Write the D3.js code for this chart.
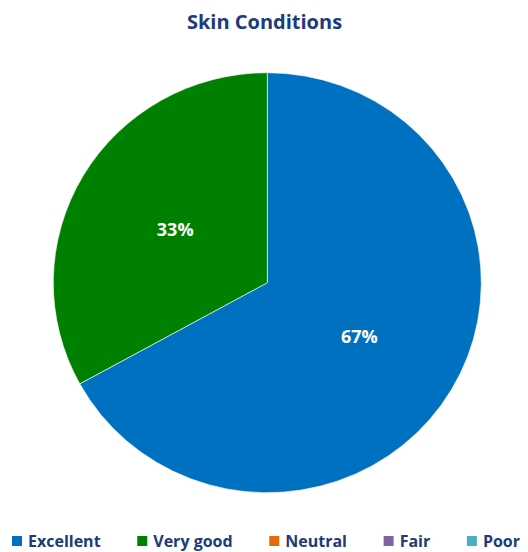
<!DOCTYPE html>
<html>
<head>
<meta charset="utf-8">
<script src="https://cdn.jsdelivr.net/npm/d3@7"></script>
<style>
  body { margin: 0; background: #fff; }
  text { font-family: "Open Sans", "Noto Sans", sans-serif; font-weight: bold; }
</style>
</head>
<body>
<div id="chart"></div>
<script>
// Chart data (share of responses, %)
var categories = ["Excellent", "Very good", "Neutral", "Fair", "Poor"];
var shares = [67, 33, 0, 0, 0];
var colors = ["#0070C0", "#008000", "#E36C09", "#8064A2", "#4BACC6"];

var svgWidth = 528;
var svgHeight = 552;
var cx = 267.3, cy = 282.7;
var rx = 214, ry = 210; // picture is slightly squashed vertically
var navy = "#203A7A";

var svg = d3.select("#chart")
  .append("svg")
  .attr("width", svgWidth)
  .attr("height", svgHeight);

// Title
svg.append("text")
  .attr("x", 264.5)
  .attr("y", 29)
  .attr("text-anchor", "middle")
  .attr("fill", navy)
  .style("font-size", "20px")
  .text("Skin Conditions");

var data = categories.map(function(c, i) { return { name: c, value: shares[i], color: colors[i] }; });
var total = d3.sum(shares);

var pie = d3.pie().sort(null).value(function(d) { return d.value; });
var arc = d3.arc().innerRadius(0).outerRadius(rx);
var labelArc = d3.arc().innerRadius(rx * 0.5).outerRadius(rx * 0.5);

var slices = pie(data).filter(function(d) { return d.data.value > 0; });

var pieGroup = svg.append("g")
  .attr("transform", "translate(" + cx + "," + cy + ") scale(1," + (ry / rx) + ")");

pieGroup.selectAll("path")
  .data(slices)
  .enter()
  .append("path")
  .attr("d", arc)
  .attr("fill", function(d) { return d.data.color; })
  .attr("stroke", "#ffffff")
  .attr("stroke-width", 0.6)
  .attr("vector-effect", "non-scaling-stroke");

svg.selectAll("text.pct")
  .data(slices)
  .enter()
  .append("text")
  .attr("class", "pct")
  .attr("transform", function(d) {
    var c = labelArc.centroid(d);
    return "translate(" + (cx + c[0]) + "," + (cy + c[1] * ry / rx) + ")";
  })
  .attr("text-anchor", "middle")
  .attr("dy", "0.36em")
  .attr("fill", "#ffffff")
  .style("font-size", "18px")
  .text(function(d) { return Math.round(d.data.value / total * 100) + "%"; });

// Legend along the bottom
var legend = svg.append("g");
var items = legend.selectAll("g")
  .data(data)
  .enter()
  .append("g");

items.append("rect")
  .attr("width", 10)
  .attr("height", 10)
  .attr("y", -5)
  .attr("fill", function(d) { return d.color; });

items.append("text")
  .attr("x", 16)
  .attr("y", 5.5)
  .attr("fill", navy)
  .style("font-size", "16px")
  .text(function(d) { return d.name; });

// spread legend entries between left and right edges
var widths = [];
items.each(function() { widths.push(this.getBBox().width); });
var left = 12, right = 520;
var gap = (right - left - d3.sum(widths)) / (widths.length - 1);
var pos = left;
items.attr("transform", function(d, i) {
  var t = "translate(" + pos + ",541)";
  pos += widths[i] + gap;
  return t;
});
</script>
</body>
</html>
